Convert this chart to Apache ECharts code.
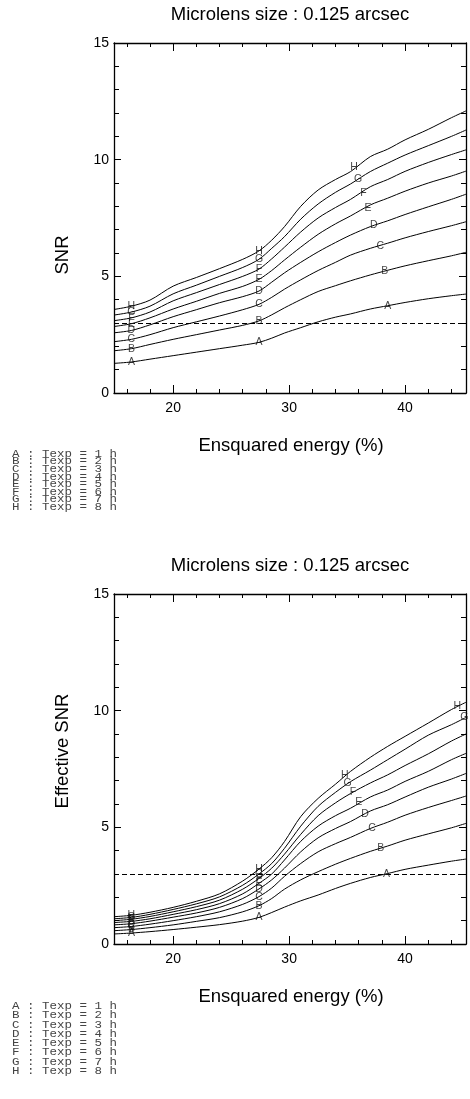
<!DOCTYPE html>
<html>
<head>
<meta charset="utf-8">
<script src="https://cdn.jsdelivr.net/npm/echarts@6/dist/echarts.min.js"></script>
<style>
  html, body { margin: 0; padding: 0; background: #fff; }
  #chart { width: 470px; height: 1099px; }
</style>
</head>
<body>
<div id="chart"></div>
<script>
// ensquared energy (%) sample points, shared by every curve
const energy = [14.9, 16.4, 18, 20, 22, 24, 26, 27.4, 28.5, 29.6, 31, 32.5, 34, 35.3, 37, 38.5, 40, 42, 44, 45.25]
const letters = ['A', 'B', 'C', 'D', 'E', 'F', 'G', 'H']
const texpHours = [1, 2, 3, 4, 5, 6, 7, 8]
const threshold = 3

// top panel : SNR
const snrA = [1.27, 1.33, 1.45, 1.6, 1.75, 1.9, 2.05, 2.17, 2.35, 2.57, 2.8, 3.05, 3.25, 3.39, 3.6, 3.74, 3.88, 4.04, 4.17, 4.24]
const snrB = [1.81, 1.9, 2.08, 2.3, 2.5, 2.7, 2.9, 3.09, 3.35, 3.65, 4.0, 4.35, 4.6, 4.81, 5.06, 5.26, 5.45, 5.67, 5.88, 6.03]
const snrC = [2.2, 2.3, 2.5, 2.8, 3.05, 3.3, 3.57, 3.8, 4.1, 4.45, 4.85, 5.25, 5.6, 5.91, 6.2, 6.42, 6.65, 6.92, 7.17, 7.34]
const snrD = [2.58, 2.68, 2.92, 3.27, 3.57, 3.87, 4.13, 4.37, 4.75, 5.15, 5.6, 6.05, 6.45, 6.77, 7.13, 7.38, 7.65, 7.98, 8.3, 8.52]
const snrE = [2.85, 2.97, 3.22, 3.6, 3.93, 4.27, 4.57, 4.87, 5.25, 5.7, 6.25, 6.8, 7.25, 7.59, 8.06, 8.35, 8.65, 9.0, 9.3, 9.51]
const snrF = [3.1, 3.22, 3.47, 3.95, 4.3, 4.65, 5.0, 5.31, 5.75, 6.25, 6.9, 7.5, 7.95, 8.3, 8.84, 9.15, 9.5, 9.88, 10.22, 10.42]
const snrG = [3.34, 3.47, 3.72, 4.25, 4.62, 5.0, 5.38, 5.73, 6.2, 6.7, 7.45, 8.1, 8.6, 8.96, 9.49, 9.85, 10.2, 10.6, 11.0, 11.27]
const snrH = [3.58, 3.72, 3.98, 4.58, 4.95, 5.33, 5.73, 6.09, 6.55, 7.13, 8.0, 8.7, 9.15, 9.49, 10.13, 10.45, 10.85, 11.3, 11.8, 12.09]

// bottom panel : effective SNR
const effA = [0.43, 0.47, 0.53, 0.62, 0.72, 0.83, 0.98, 1.14, 1.35, 1.58, 1.85, 2.1, 2.38, 2.6, 2.85, 3.02, 3.2, 3.38, 3.55, 3.64]
const effB = [0.57, 0.62, 0.7, 0.82, 0.97, 1.13, 1.38, 1.64, 1.95, 2.35, 2.75, 3.1, 3.42, 3.67, 3.97, 4.2, 4.45, 4.72, 4.98, 5.17]
const effC = [0.7, 0.75, 0.85, 1.0, 1.17, 1.38, 1.7, 2.03, 2.4, 2.9, 3.45, 3.95, 4.3, 4.57, 4.95, 5.22, 5.52, 5.85, 6.15, 6.34]
const effD = [0.82, 0.87, 0.98, 1.15, 1.33, 1.57, 1.95, 2.36, 2.75, 3.25, 3.95, 4.55, 4.95, 5.25, 5.7, 5.97, 6.3, 6.72, 7.07, 7.31]
const effE = [0.92, 0.97, 1.08, 1.27, 1.47, 1.73, 2.15, 2.6, 3.0, 3.6, 4.4, 5.05, 5.5, 5.82, 6.3, 6.6, 6.97, 7.4, 7.9, 8.17]
const effF = [1.0, 1.06, 1.18, 1.38, 1.6, 1.88, 2.35, 2.81, 3.25, 3.85, 4.7, 5.5, 6.05, 6.45, 6.9, 7.25, 7.65, 8.15, 8.7, 9.0]
const effG = [1.08, 1.14, 1.27, 1.48, 1.72, 2.02, 2.52, 3.0, 3.45, 4.1, 5.05, 5.9, 6.5, 6.96, 7.45, 7.9, 8.35, 8.95, 9.4, 9.71]
const effH = [1.17, 1.23, 1.36, 1.57, 1.83, 2.15, 2.7, 3.21, 3.7, 4.39, 5.46, 6.24, 6.85, 7.4, 8.0, 8.47, 8.9, 9.47, 10.05, 10.36]

// curve letters are written at these energy indexes, plus one more point further along
const tagIndex = [1, 7]
const tagTop = [[38.5, 3.73], [38.25, 5.24], [37.85, 6.3], [37.3, 7.2], [36.8, 7.91], [36.4, 8.56], [35.95, 9.16], [35.6, 9.7]]
const tagBottom = [[38.4, 2.99], [37.9, 4.13], [37.15, 4.96], [36.55, 5.57], [36.0, 6.07], [35.5, 6.53], [35.05, 6.89], [34.8, 7.24]]
const tagBottomExtra = [['H', 44.5, 10.2], ['G', 45.1, 9.71]]

// axis ticks
const xMajor = [20, 30, 40]
const xMinor = [16, 18, 22, 24, 26, 28, 32, 34, 36, 38, 42, 44]

const topCurves = [snrA, snrB, snrC, snrD, snrE, snrF, snrG, snrH]
const bottomCurves = [effA, effB, effC, effD, effE, effF, effG, effH]

const FONT = '"Liberation Sans", Arial, Helvetica, sans-serif'
const panels = [
  { top: 43, curves: topCurves, tags: tagTop, extra: [], yName: 'SNR', yNameY: 255, legendY: 454, legendStep: 7.62 },
  { top: 594, curves: bottomCurves, tags: tagBottom, extra: tagBottomExtra, yName: 'Effective SNR', yNameY: 751, legendY: 1006.5, legendStep: 9.25 }
]

let myChart = echarts.init(document.getElementById('chart'), null, { renderer: 'canvas' })

let grids = []
let xAxes = []
let yAxes = []
let series = []
let graphics = []

panels.forEach((p, gi) => {
  grids.push({ left: 114, top: p.top, width: 352, height: 350 })

  // x axes : long ticks + short ticks, bottom and top
  let xBase = { gridIndex: gi, type: 'value', min: 14.9, max: 45.25, splitLine: { show: false } }
  let line = { show: true, lineStyle: { color: '#000', width: 1.3 } }
  xAxes.push(Object.assign({}, xBase, {
    position: 'bottom',
    axisLine: line,
    axisTick: { inside: true, length: 8, customValues: xMajor, lineStyle: { color: '#000' } },
    axisLabel: { customValues: xMajor, margin: 8, fontSize: 14, color: '#000', fontFamily: FONT }
  }))
  xAxes.push(Object.assign({}, xBase, {
    position: 'bottom',
    axisLine: { show: false },
    axisTick: { inside: true, length: 4, customValues: xMinor, lineStyle: { color: '#000' } },
    axisLabel: { show: false }
  }))
  xAxes.push(Object.assign({}, xBase, {
    position: 'top',
    axisLine: line,
    axisTick: { inside: true, length: 8, customValues: xMajor, lineStyle: { color: '#000' } },
    axisLabel: { show: false }
  }))
  xAxes.push(Object.assign({}, xBase, {
    position: 'top',
    axisLine: { show: false },
    axisTick: { inside: true, length: 4, customValues: xMinor, lineStyle: { color: '#000' } },
    axisLabel: { show: false }
  }))

  // y axes left / right
  let yBase = {
    gridIndex: gi, type: 'value', min: 0, max: 15, interval: 5,
    splitLine: { show: false },
    axisLine: line,
    axisTick: { inside: true, length: 7, lineStyle: { color: '#000' } },
    minorTick: { show: true, splitNumber: 5, length: 5, lineStyle: { color: '#000' } }
  }
  yAxes.push(Object.assign({}, yBase, {
    position: 'left',
    axisLabel: { margin: 5, fontSize: 14, color: '#000', fontFamily: FONT }
  }))
  yAxes.push(Object.assign({}, yBase, { position: 'right', axisLabel: { show: false } }))

  let xi = gi * 4
  let yi = gi * 2

  // curves
  p.curves.forEach((vals, ci) => {
    series.push({
      type: 'line',
      name: letters[ci],
      xAxisIndex: xi,
      yAxisIndex: yi,
      data: energy.map((e, i) => [e, vals[i]]),
      showSymbol: false,
      smooth: 0.3,
      lineStyle: { color: '#000', width: 1 },
      silent: true,
      animation: false,
      markLine: ci === 0 ? {
        symbol: 'none',
        silent: true,
        label: { show: false },
        lineStyle: { color: '#000', width: 1, type: [5, 3] },
        data: [{ yAxis: threshold }]
      } : undefined
    })
  })

  // curve letters
  let tagData = []
  p.curves.forEach((vals, ci) => {
    tagIndex.forEach(i => tagData.push([energy[i], vals[i], letters[ci]]))
    tagData.push([p.tags[ci][0], p.tags[ci][1], letters[ci]])
  })
  p.extra.forEach(t => tagData.push([t[1], t[2], t[0]]))
  series.push({
    type: 'scatter',
    xAxisIndex: xi,
    yAxisIndex: yi,
    data: tagData,
    symbolSize: 1,
    itemStyle: { color: 'rgba(0,0,0,0)' },
    silent: true,
    animation: false,
    z: 5,
    label: {
      show: true,
      position: 'inside',
      formatter: (d) => d.value[2],
      fontSize: 10.5,
      fontFamily: FONT,
      color: '#111'
    },
    labelLayout: { hideOverlap: false }
  })

  // title, axis names
  graphics.push({
    type: 'text', x: 290, y: p.top - 28,
    style: { text: 'Microlens size : 0.125 arcsec', font: '18.5px ' + FONT, fill: '#000', textAlign: 'center', textVerticalAlign: 'middle' }
  })
  graphics.push({
    type: 'text', x: 291, y: p.top + 403,
    style: { text: 'Ensquared energy (%)', font: '18.5px ' + FONT, fill: '#000', textAlign: 'center', textVerticalAlign: 'middle' }
  })
  graphics.push({
    type: 'text', x: 63, y: p.yNameY, rotation: Math.PI / 2,
    style: { text: p.yName, font: '18.5px ' + FONT, fill: '#000', textAlign: 'center', textVerticalAlign: 'middle' }
  })

  // legend block (monospace, squeezed a bit vertically like the original listing)
  letters.forEach((l, i) => {
    graphics.push({
      type: 'text', x: 12, y: p.legendY + i * p.legendStep, scaleY: 0.8,
      style: {
        text: `${l} : Texp = ${texpHours[i]} h`,
        font: '12.5px "Liberation Mono", "Courier New", monospace',
        fill: '#444', textAlign: 'left', textVerticalAlign: 'middle'
      }
    })
  })
})

let option = {
  animation: false,
  backgroundColor: '#fff',
  grid: grids,
  xAxis: xAxes,
  yAxis: yAxes,
  series: series,
  graphic: graphics
}
myChart.setOption(option)
</script>
</body>
</html>
